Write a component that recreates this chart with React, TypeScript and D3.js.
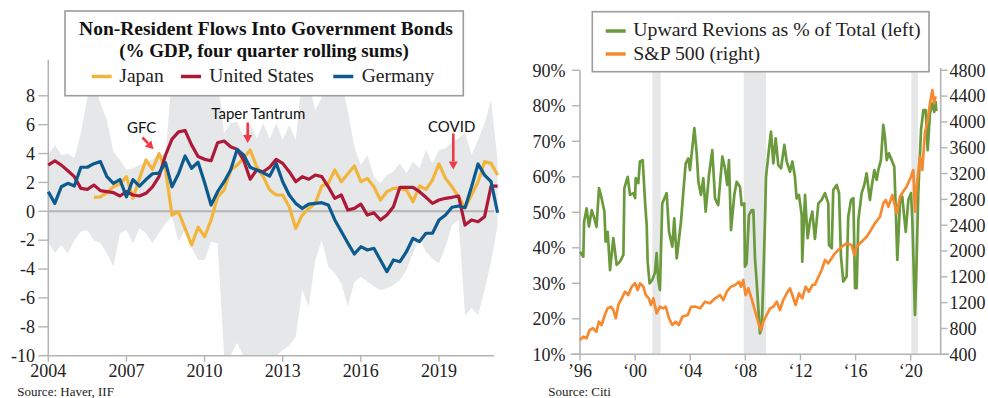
import React from "react";
import * as d3 from "d3";

// ---------- Left chart data (quarterly) ----------
const leftYearTicks = [2004, 2007, 2010, 2013, 2016, 2019];
const leftValueTicks = [8, 6, 4, 2, 0, -2, -4, -6, -8, -10];
const germanyStart = 2004;
const germany = [1.36, 0.55, 1.7, 1.94, 1.75, 3.05, 3.05, 3.3, 3.44, 2.4, 1.94, 2.2, 1.0, 2.2, 1.75, 2.2,
  2.6, 2.65, 3.37, 1.7, 2.6, 3.83, 2.98, 3.4, 2.0, 0.44, 1.36, 2.05, 2.86, 4.29, 3.9, 3.05,
  2.86, 2.67, 2.44, 3.32, 2.05, 1.13, 0.55, 0.2, 0.5, 0.55, 0.6, 0.44, -0.6, -1.4, -2.2, -2.96,
  -2.45, -2.68, -2.56, -3.37, -4.18, -3.37, -3.49, -2.8, -1.87, -2.1, -1.52, -1.52, -0.6, -0.26, 0.28, 0.37,
  0.25, 1.7, 3.28, 2.51, 2.05, -0.1];
const usStart = 2004;
const unitedStates = [3.2, 3.5, 3.2, 2.81, 2.4, 1.59, 1.52, 1.82, 1.43, 1.36, 1.29, 1.06, 1.36, 1.13, 1.06, 1.25,
  1.7, 2.4, 3.9, 5.0, 5.5, 5.6, 4.6, 3.8, 3.6, 3.5, 4.75, 4.87, 4.47, 4.29, 3.55, 2.22,
  2.86, 2.74, 3.05, 3.6, 3.32, 2.74, 2.05, 2.4, 2.22, 2.51, 2.4, 1.7, 0.9, 1.13, 0.09, 0.2,
  0.5, -0.26, -0.1, -0.6, -0.26, 0.32, 1.66, 1.66, 1.66, 1.36, 0.97, 0.55, 0.78, 0.9, 0.97, 1.06,
  -0.95, -0.6, -0.72, -0.37, 1.75, 1.75];
const japanStart = 2005.75;
const japan = [0.97, 1.0, 1.29, 1.7, 1.9, 2.4, 0.9, 2.28, 3.55, 2.9, 4.0, 2.9, -0.26, -0.03, -1.18, -2.33,
  -1.1, -1.76, -0.6, 1.0, 1.47, 2.86, 3.2, 3.67, 4.25, 3.09, 2.4, 1.47, 1.13, 1.13, 0.32, -1.18,
  -0.26, 0.2, 0.55, 1.75, 1.94, 2.86, 2.05, 2.6, 3.14, 2.05, 2.28, 1.7, 0.78, 1.36, 1.59, 1.59,
  1.47, 0.66, 1.75, 1.52, 2.17, 3.28, 2.28, 1.7, 1.0, 0.25, 1.13, 2.05, 3.44, 3.32, 2.51];
const bandStart = 2004;
const bandUpper = [3.9, 4.6, 3.9, 4.0, 3.67, 5.4, 7.9, 9.0, 7.5, 6.3, 4.13, 3.55, 2.86, 2.98, 3.2, 3.44,
  3.6, 4.0, 3.9, 9.5, 10.0, 10.5, 9.5, 10.0, 10.3, 9.0, 9.5, 5.4, 6.1, 6.2, 5.17, 6.1,
  5.05, 6.1, 5.0, 6.1, 4.94, 6.0, 4.9, 9.5, 9.0, 7.0, 7.9, 9.5, 9.8, 9.0, 7.0, 4.47,
  3.2, 3.9, 2.4, 1.94, 2.51, 2.74, 3.32, 2.63, 3.44, 2.98, 4.25, 3.32, 4.25, 4.36, 4.82, 5.05,
  5.5, 3.9, 4.94, 6.1, 7.7, 3.5];
const bandLower = [-2.1, -2.9, -2.33, -2.9, -2.0, -1.4, -1.3, -2.0, -2.2, -2.9, -3.84, -1.52, -1.3, -2.22, -1.18, -1.52,
  -2.22, -1.52, -0.83, -0.37, -2.1, -1.3, -2.5, -3.37, -3.37, -2.1, -2.22, -10, -10, -9.1, -10, -10,
  -10, -10, -10, -10, -9.6, -9.3, -8.7, -5.45, -6.6, -3.37, -2.0, -3.84, -4.29, -5.0, -6.6, -4.87,
  -4.53, -4.87, -5.2, -5.45, -5.33, -5.1, -4.76, -4.07, -2.9, -1.87, -2.8, -3.3, -3.6, -2.45, -0.95, -0.6,
  -7.2, -6.7, -7.2, -5.45, -3.5, -1.0];

// ---------- Right chart data ----------
const rightYearTicks = [1996, 2000, 2004, 2008, 2012, 2016, 2020];
const rightYearLabels = ["’96", "‘00", "‘04", "‘08", "‘12", "‘16", "‘20"];
const pctTicks = [10, 20, 30, 40, 50, 60, 70, 80, 90];
const spTicks = [400, 800, 1200, 1600, 2000, 2400, 2800, 3200, 3600, 4000, 4400, 4800];
const spTickLabels = ["400", "800", "1200", "1200", "2000", "2400", "2800", "3200", "3600", "4000", "4400", "4800"];
const recessions: [number, number][] = [[2001.25, 2001.85], [2007.88, 2009.5], [2020.05, 2020.52]];

const revTime = [1996.0, 1996.24, 1996.3, 1996.48, 1996.65, 1996.85, 1997.04, 1997.2, 1997.38, 1997.57, 1997.77, 1997.86,
  1998.01, 1998.18, 1998.42, 1998.66, 1998.9, 1999.15, 1999.22, 1999.46, 1999.63, 1999.87, 2000.0, 2000.04,
  2000.23, 2000.35, 2000.55, 2000.72, 2000.84, 2000.91, 2001.05, 2001.25, 2001.44, 2001.56, 2001.68, 2001.8,
  2001.97, 2002.29, 2002.46, 2002.7, 2002.84, 2003.02, 2003.33, 2003.5, 2003.67, 2003.86, 2003.98, 2004.3,
  2004.47, 2004.59, 2004.78, 2004.95, 2005.12, 2005.36, 2005.6, 2005.8, 2006.03, 2006.33, 2006.52, 2006.69,
  2006.81, 2006.96, 2007.2, 2007.37, 2007.61, 2007.73, 2007.92, 2007.97, 2008.09, 2008.26, 2008.46, 2008.58,
  2008.7, 2008.82, 2008.94, 2009.06, 2009.19, 2009.31, 2009.43, 2009.5, 2009.72, 2009.86, 2010.03, 2010.2,
  2010.39, 2010.59, 2010.83, 2011.0, 2011.24, 2011.41, 2011.6, 2011.72, 2011.89, 2012.09, 2012.13, 2012.33,
  2012.52, 2012.69, 2012.86, 2013.05, 2013.3, 2013.54, 2013.78, 2014.02, 2014.07, 2014.27, 2014.38, 2014.63,
  2014.8, 2014.94, 2015.11, 2015.35, 2015.47, 2015.67, 2015.84, 2015.96, 2016.08, 2016.2, 2016.44, 2016.63,
  2016.8, 2017.04, 2017.17, 2017.36, 2017.53, 2017.65, 2017.84, 2018.01, 2018.13, 2018.26, 2018.42, 2018.62,
  2018.81, 2018.91, 2019.03, 2019.22, 2019.39, 2019.53, 2019.64, 2019.83, 2020.02, 2020.12, 2020.31, 2020.43,
  2020.55, 2020.75, 2020.92, 2021.09, 2021.23, 2021.4, 2021.57, 2021.71, 2021.81, 2021.86];
const revPct = [38.9, 37.5, 47.4, 51.1, 46, 50.6, 48.3, 45.9, 56.8, 53.9, 50.2, 41.7,
  44.5, 33.7, 42.7, 35.2, 36.1, 38, 56.8, 60, 54.9, 55.4, 54, 59.6,
  58.2, 64.3, 64.7, 53, 46.4, 36.1, 30, 31, 33, 38.5, 31, 28.1,
  52.5, 55.4, 44.5, 40.3, 48.3, 37, 47.4, 55.8, 63.8, 65.2, 61.9, 73.7,
  66.6, 58.6, 54.9, 59.6, 50.2, 60.5, 67.5, 53.9, 52, 65.7, 62.4, 57.7,
  64.7, 45, 54.9, 58.6, 57.2, 52, 52.5, 34.7, 35.6, 49.2, 50.6, 50.6,
  37, 30.5, 23, 15.9, 17.3, 31.9, 48.3, 60, 68, 72.7, 63.8, 70.8,
  63.3, 62.4, 69, 64.3, 61.4, 64.3, 60, 53.9, 54.9, 49.2, 36.1, 54.9,
  42.7, 47.4, 50.2, 42.5, 52.5, 53.5, 55.4, 52.5, 40.8, 39.9, 56.3, 57.7,
  55.4, 37.5, 30.5, 31.9, 48.8, 53.5, 54, 28.6, 28.6, 47.8, 55.4, 57.7,
  61, 53.5, 57.2, 61.9, 59.1, 61.9, 64.7, 74.6, 71.3, 64.7, 66.6, 64.7,
  62.8, 51.6, 36.6, 52.5, 54.4, 48.8, 44.5, 53.5, 55.4, 47.8, 21.1, 36.6,
  55.4, 73.2, 78.8, 78.8, 67.5, 77.9, 80.7, 78.3, 81.1, 78.5];

const spTime = [1996.0, 1996.24, 1996.48, 1996.7, 1996.94, 1997.19, 1997.36, 1997.57, 1997.8, 1998.0, 1998.25, 1998.42,
  1998.6, 1998.78, 1999.03, 1999.27, 1999.5, 1999.75, 2000.0, 2000.19, 2000.35, 2000.6, 2000.77, 2001.0,
  2001.15, 2001.32, 2001.56, 2001.8, 2002.04, 2002.22, 2002.46, 2002.7, 2002.94, 2003.18, 2003.42, 2003.82,
  2004.06, 2004.35, 2004.71, 2005.07, 2005.43, 2005.8, 2006.16, 2006.4, 2006.65, 2006.96, 2007.25, 2007.54,
  2007.68, 2007.85, 2008.02, 2008.21, 2008.41, 2008.65, 2008.82, 2008.99, 2009.13, 2009.3, 2009.55, 2009.79,
  2010.03, 2010.28, 2010.51, 2010.75, 2011.0, 2011.24, 2011.41, 2011.65, 2011.89, 2012.13, 2012.38, 2012.62,
  2012.86, 2013.05, 2013.3, 2013.54, 2013.78, 2014.02, 2014.5, 2014.99, 2015.35, 2015.71, 2015.9, 2016.08,
  2016.44, 2016.8, 2017.04, 2017.4, 2017.77, 2018.01, 2018.19, 2018.38, 2018.67, 2018.99, 2019.22, 2019.53,
  2019.7, 2020.02, 2020.19, 2020.31, 2020.43, 2020.67, 2020.84, 2021.03, 2021.27, 2021.4, 2021.57, 2021.71, 2021.8];
const spValue = [622, 673, 648, 776, 803, 750, 905, 854, 1009, 1112, 1137, 1086,
  958, 1164, 1267, 1370, 1318, 1447, 1500, 1396, 1500, 1447, 1318, 1267,
  1164, 1267, 1035, 1137, 1112, 1137, 958, 854, 905, 854, 982, 1009,
  1137, 1140, 1112, 1215, 1190, 1267, 1318, 1241, 1370, 1447, 1473, 1525,
  1447, 1551, 1318, 1422, 1292, 1112, 982, 854, 776, 905, 1009, 1112,
  1137, 1215, 1086, 1241, 1345, 1422, 1318, 1164, 1345, 1267, 1447, 1370,
  1473, 1480, 1600, 1706, 1861, 1810, 1964, 2067, 2119, 2093, 1938, 2067,
  2144, 2222, 2299, 2429, 2531, 2739, 2790, 2686, 2868, 2584, 2841, 2945,
  2996, 3151, 3255, 2609, 2996, 3461, 3255, 3823, 4080, 4288, 4494, 4288, 4400];

// ---------- styles ----------
const SERIF = "'Liberation Serif', 'Times New Roman', serif";
const SANS = "Lato, 'Open Sans', sans-serif";
const C_JAPAN = "#f2b53c";
const C_US = "#ad1936";
const C_GER = "#0d5b8e";
const C_BAND = "#e6e7e9";
const C_AXIS = "#b4b4b4";
const C_BOX = "#9c9c9c";
const C_GREEN = "#6a9a3b";
const C_ORANGE = "#f68a31";
const C_ARROW = "#ee3b45";

const quarterPoints = (start: number, vals: number[]): [number, number][] =>
  vals.map((v, i) => [start + i * 0.25, v]);

function Arrow({ x1, y1, x2, y2 }: { x1: number; y1: number; x2: number; y2: number }) {
  const ang = Math.atan2(y2 - y1, x2 - x1);
  const L = 8, W = 4.5;
  const bx = x2 - L * Math.cos(ang), by = y2 - L * Math.sin(ang);
  const px = -Math.sin(ang) * W, py = Math.cos(ang) * W;
  return (
    <g>
      <line x1={x1} y1={y1} x2={bx} y2={by} stroke={C_ARROW} strokeWidth={2.6} />
      <polygon points={`${x2},${y2} ${bx + px},${by + py} ${bx - px},${by - py}`} fill={C_ARROW} />
    </g>
  );
}

function LeftChart() {
  const x = d3.scaleLinear().domain([2004, 2021.25]).range([48.3, 497.6]);
  const y = d3.scaleLinear().domain([-10, 10.5]).range([355.7, 59.7]);
  const line = d3.line<[number, number]>().x((d) => x(d[0])).y((d) => y(d[1]));
  const bandData = bandUpper.map((u, i) => ({ t: bandStart + i * 0.25, u, l: bandLower[i] }));
  const area = d3.area<{ t: number; u: number; l: number }>()
    .x((d) => x(d.t)).y0((d) => y(d.l)).y1((d) => y(d.u));
  const x0 = x(2004), xEnd = 494;
  return (
    <g>
      <path d={area(bandData) || ""} fill={C_BAND} />
      <line x1={x0} x2={xEnd} y1={y(0)} y2={y(0)} stroke={C_AXIS} strokeWidth={2} />
      <line x1={x0} x2={x0} y1={y(10.5)} y2={y(-10)} stroke={C_AXIS} strokeWidth={1.6} />
      <line x1={x0} x2={xEnd} y1={y(-10)} y2={y(-10)} stroke={C_AXIS} strokeWidth={1.6} />
      {leftValueTicks.map((v) => (
        <g key={v}>
          <line x1={38.3} x2={x0} y1={y(v)} y2={y(v)} stroke={C_AXIS} strokeWidth={1.4} />
          <text x={35} y={y(v)} dy="0.35em" textAnchor="end" fontFamily={SERIF} fontSize={18} fill="#222">{v}</text>
        </g>
      ))}
      {leftYearTicks.map((t) => (
        <g key={t}>
          <line x1={x(t)} x2={x(t)} y1={y(-10)} y2={y(-10) + 6} stroke={C_AXIS} strokeWidth={1.4} />
          <text x={x(t)} y={376.5} textAnchor="middle" fontFamily={SERIF} fontSize={18} fill="#222">{t}</text>
        </g>
      ))}
      <path d={line(quarterPoints(japanStart, japan)) || ""} fill="none" stroke={C_JAPAN} strokeWidth={3.2} strokeLinejoin="round" />
      <path d={line(quarterPoints(usStart, unitedStates)) || ""} fill="none" stroke={C_US} strokeWidth={3.2} strokeLinejoin="round" />
      <path d={line(quarterPoints(germanyStart, germany)) || ""} fill="none" stroke={C_GER} strokeWidth={3.2} strokeLinejoin="round" />

      {/* annotations */}
      <text x={141.7} y={133} textAnchor="middle" fontFamily={SANS} fontSize={15} fill="#111">GFC</text>
      <Arrow x1={142.5} y1={137.5} x2={153.5} y2={149.3} />
      <text x={258.3} y={118.8} textAnchor="middle" fontFamily={SANS} fontSize={15} fill="#111">Taper Tantrum</text>
      <Arrow x1={247.7} y1={122.5} x2={247.7} y2={143} />
      <text x={451.7} y={131.5} textAnchor="middle" fontFamily={SANS} fontSize={15} fill="#111">COVID</text>
      <Arrow x1={453.3} y1={133.5} x2={453.3} y2={169.5} />

      {/* legend / title box */}
      <rect x={65} y={11} width={398.3} height={84.7} fill="#fff" stroke={C_BOX} strokeWidth={1.6} />
      <text x={266} y={34.5} textAnchor="middle" fontFamily={SERIF} fontWeight="bold" fontSize={19.5} fill="#111">Non-Resident Flows Into Government Bonds</text>
      <text x={264} y={56.5} textAnchor="middle" fontFamily={SERIF} fontWeight="bold" fontSize={19} fill="#111">(% GDP, four quarter rolling sums)</text>
      {[
        { c: C_JAPAN, lx: 91.7, tx: 119.3, label: "Japan" },
        { c: C_US, lx: 181, tx: 209.3, label: "United States" },
        { c: C_GER, lx: 333.3, tx: 361.7, label: "Germany" },
      ].map((e) => (
        <g key={e.label}>
          <line x1={e.lx} x2={e.lx + 20} y1={76.5} y2={76.5} stroke={e.c} strokeWidth={3.5} />
          <text x={e.tx} y={82} fontFamily={SERIF} fontSize={19.5} fill="#222">{e.label}</text>
        </g>
      ))}
      <text x={17.3} y={396} fontFamily={SERIF} fontSize={13} fill="#222">Source: Haver, IIF</text>
    </g>
  );
}

function RightChart() {
  const x = d3.scaleLinear().domain([1996, 2020]).range([580, 910.7]);
  const yL = d3.scaleLinear().domain([10, 90]).range([354.3, 70.3]);
  const yR = d3.scaleLinear().domain([400, 4800]).range([354.3, 70.3]);
  const xLeft = x(1996), xRight = 940.7;
  const greenLine = d3.line<number>().x((_, i) => x(revTime[i])).y((d) => yL(d));
  const orangeLine = d3.line<number>().x((_, i) => x(spTime[i])).y((d) => yR(d));
  return (
    <g>
      {recessions.map(([a, b]) => (
        <rect key={a} x={x(a)} width={x(b) - x(a)} y={70.3} height={354.3 - 70.3} fill={C_BAND} />
      ))}
      <line x1={xLeft} x2={xLeft} y1={70.3} y2={354.3} stroke={C_AXIS} strokeWidth={1.6} />
      <line x1={xRight} x2={xRight} y1={68} y2={354.3} stroke={C_AXIS} strokeWidth={1.6} />
      <line x1={570.7} x2={949} y1={354.3} y2={354.3} stroke={C_AXIS} strokeWidth={1.6} />
      {pctTicks.map((v) => (
        <g key={v}>
          <line x1={572} x2={xLeft} y1={yL(v)} y2={yL(v)} stroke={C_AXIS} strokeWidth={1.4} />
          <text x={565.5} y={yL(v)} dy="0.35em" textAnchor="end" fontFamily={SERIF} fontSize={18} fill="#222">{v}%</text>
        </g>
      ))}
      {spTicks.map((v, i) => (
        <g key={v}>
          <line x1={xRight} x2={947.5} y1={yR(v)} y2={yR(v)} stroke={C_AXIS} strokeWidth={1.4} />
          <text x={949.5} y={yR(v)} dy="0.35em" textAnchor="start" fontFamily={SERIF} fontSize={18} fill="#222">{spTickLabels[i]}</text>
        </g>
      ))}
      {rightYearTicks.map((t, i) => (
        <g key={t}>
          <line x1={x(t)} x2={x(t)} y1={354.3} y2={360.5} stroke={C_AXIS} strokeWidth={1.4} />
          <text x={x(t)} y={377} textAnchor="middle" fontFamily={SERIF} fontSize={18} fill="#222">{rightYearLabels[i]}</text>
        </g>
      ))}
      <path d={greenLine(revPct) || ""} fill="none" stroke={C_GREEN} strokeWidth={2.7} strokeLinejoin="round" />
      <path d={orangeLine(spValue) || ""} fill="none" stroke={C_ORANGE} strokeWidth={2.7} strokeLinejoin="round" />

      <rect x={592.3} y={11.7} width={336.7} height={60} fill="#fff" stroke={C_BOX} strokeWidth={1.6} />
      <line x1={605.7} x2={625.7} y1={31} y2={31} stroke={C_GREEN} strokeWidth={3.5} />
      <text x={633.3} y={35.5} fontFamily={SERIF} fontSize={19.8} fill="#222">Upward Revions as % of Total (left)</text>
      <line x1={605.7} x2={625.7} y1={54} y2={54} stroke={C_ORANGE} strokeWidth={3.5} />
      <text x={633.3} y={59.5} fontFamily={SERIF} fontSize={19.8} fill="#222">S&amp;P 500 (right)</text>
      <text x={548.3} y={396} fontFamily={SERIF} fontSize={13} fill="#222">Source: Citi</text>
    </g>
  );
}

export default function App() {
  return (
    <svg width={988} height={398} viewBox="0 0 988 398"
      style={{ position: "absolute", left: 0, top: 0, display: "block", background: "#fff" }}>
      <rect x={0} y={0} width={988} height={398} fill="#fff" />
      <LeftChart />
      <RightChart />
    </svg>
  );
}
